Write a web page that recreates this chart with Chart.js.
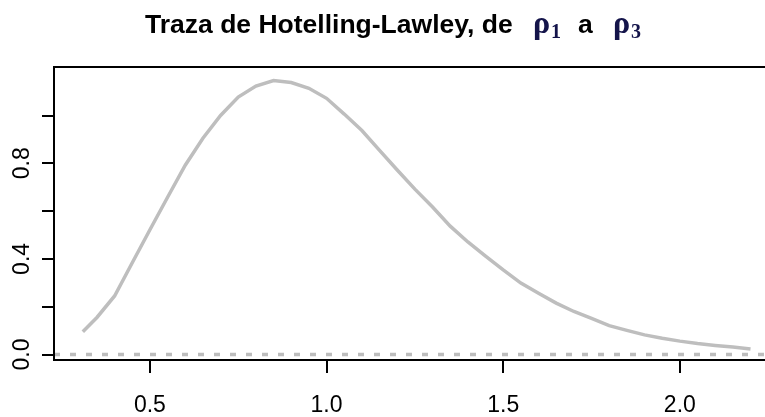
<!DOCTYPE html>
<html>
<head>
<meta charset="utf-8">
<script src="https://cdn.jsdelivr.net/npm/chart.js@4.4.1/dist/chart.umd.min.js"></script>
<style>
  html, body { margin: 0; padding: 0; background: #fff; }
  canvas { display: block; }
</style>
</head>
<body>
<canvas id="trace" width="765" height="417"></canvas>
<script>
let canvas = document.getElementById('trace');

// values
let xs = [0.31, 0.35, 0.40, 0.45, 0.50, 0.55, 0.60, 0.65, 0.70, 0.75,
          0.80, 0.85, 0.90, 0.95, 1.00, 1.05, 1.10, 1.15, 1.20, 1.25,
          1.30, 1.35, 1.40, 1.45, 1.50, 1.55, 1.60, 1.65, 1.70, 1.75,
          1.80, 1.85, 1.90, 1.95, 2.00, 2.05, 2.10, 2.15, 2.20];
let ys = [0.095, 0.155, 0.245, 0.384, 0.522, 0.658, 0.792, 0.905, 1.000, 1.077,
          1.123, 1.146, 1.138, 1.114, 1.072, 1.006, 0.937, 0.854, 0.772, 0.692,
          0.617, 0.537, 0.471, 0.412, 0.354, 0.299, 0.256, 0.215, 0.180, 0.151,
          0.121, 0.101, 0.082, 0.068, 0.056, 0.046, 0.038, 0.031, 0.023];

let xTicks = [0.5, 1.0, 1.5, 2.0];
let xTickLabels = ["0.5", "1.0", "1.5", "2.0"];
let yTicks = [0, 0.2, 0.4, 0.6, 0.8, 1.0];
let yTickLabels = ["0.0", "", "0.4", "", "0.8", ""];
let refLevel = 0;

let xMin = 0.2285, xMax = 2.241;
let yMin = -0.023, yMax = 1.203;

let curve = xs.map((x, i) => ({ x: x, y: ys[i] }));
let baseline = [{ x: xMin, y: refLevel }, { x: xMax, y: refLevel }];


// box (top, left, bottom), rotated y labels and the title
let decorations = {
    id: 'decorations',
    afterDraw(chart) {
        let ctx = chart.ctx;
        let a = chart.chartArea;
        let yScale = chart.scales.y;

        ctx.save();
        ctx.strokeStyle = '#000';
        ctx.lineWidth = 2;
        ctx.beginPath();
        ctx.moveTo(a.right + 5, a.top);
        ctx.lineTo(a.left, a.top);
        ctx.lineTo(a.left, a.bottom);
        ctx.lineTo(a.right + 5, a.bottom);
        ctx.stroke();

        ctx.fillStyle = '#000';
        ctx.font = '23px "Liberation Sans", Arial, sans-serif';
        ctx.textAlign = 'center';
        ctx.textBaseline = 'middle';
        yTicks.forEach((v, i) => {
            if (!yTickLabels[i]) return;
            let py = yScale.getPixelForValue(v);
            ctx.save();
            ctx.translate(23, py);
            ctx.rotate(-Math.PI / 2);
            ctx.fillText(yTickLabels[i], 0, 0);
            ctx.restore();
        });

        // title
        let x = 145, base = 33;
        ctx.textAlign = 'left';
        ctx.textBaseline = 'alphabetic';
        let sans = 'bold 26.5px "Liberation Sans", Arial, sans-serif';
        let serif = 'bold 32px "Liberation Serif", "Times New Roman", serif';
        let sub = 'bold 20px "Liberation Serif", "Times New Roman", serif';

        ctx.font = sans;
        ctx.fillText('Traza de Hotelling-Lawley, de', x, base);

        ctx.fillStyle = '#14144a';
        ctx.font = serif;
        ctx.fillText('\u03c1', 533, base);
        ctx.font = sub;
        ctx.fillText('1', 551, base + 5);

        ctx.fillStyle = '#000';
        ctx.font = sans;
        ctx.fillText('a', 578, base);

        ctx.fillStyle = '#14144a';
        ctx.font = serif;
        ctx.fillText('\u03c1', 613, base);
        ctx.font = sub;
        ctx.fillText('3', 631, base + 5);
        ctx.restore();
    }
};


let traceChart = new Chart(canvas, {
    type: 'line',
    data: {
        datasets: [
            {
                label: 'traza',
                data: curve,
                borderColor: '#bebebe',
                borderWidth: 3.5,
                pointRadius: 0,
                tension: 0,
                fill: false,
            },
            {
                label: 'cero',
                data: baseline,
                borderColor: '#bdbdbd',
                borderWidth: 3.5,
                borderDash: [6, 10],
                pointRadius: 0,
                fill: false,
            },
        ],
    },
    options: {
        responsive: false,
        animation: false,
        layout: { padding: { top: 67, left: 0, right: 0, bottom: 0 } },
        plugins: {
            legend: { display: false },
            tooltip: { enabled: false },
        },
        scales: {
            x: {
                type: 'linear',
                min: xMin,
                max: xMax,
                afterBuildTicks: s => { s.ticks = xTicks.map(v => ({ value: v })); },
                afterFit: s => { s.height = 57; },
                ticks: {
                    callback: (v) => xTickLabels[xTicks.indexOf(v)],
                    color: '#000',
                    font: { family: '"Liberation Sans", Arial, sans-serif', size: 23 },
                    padding: 19,
                    maxRotation: 0,
                    autoSkip: false,
                },
                grid: {
                    drawOnChartArea: false,
                    drawTicks: true,
                    tickLength: 13,
                    color: '#000',
                    lineWidth: 2,
                },
                border: { display: true, color: '#000', width: 2 },
            },
            y: {
                type: 'linear',
                min: yMin,
                max: yMax,
                afterBuildTicks: s => { s.ticks = yTicks.map(v => ({ value: v })); },
                afterFit: s => { s.width = 54; },
                ticks: { display: false },
                grid: {
                    drawOnChartArea: false,
                    drawTicks: true,
                    tickLength: 12,
                    color: '#000',
                    lineWidth: 2,
                },
                border: { display: true, color: '#000', width: 2 },
            },
        },
    },
    plugins: [decorations],
});
</script>
</body>
</html>
